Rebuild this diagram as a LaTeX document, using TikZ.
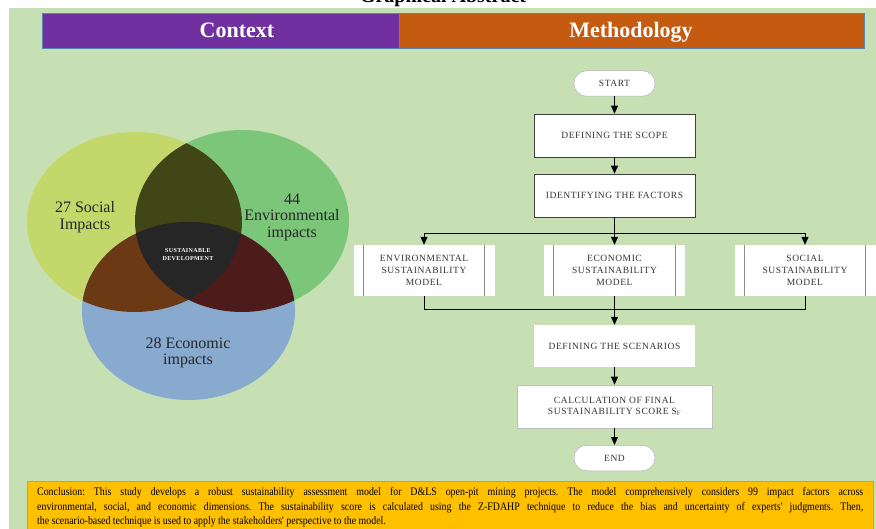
\documentclass[tikz,border=0pt]{standalone}
\usepackage{fontspec}
\setmainfont{Liberation Serif}
\newfontfamily\concfont{Liberation Serif}[FakeStretch=0.86]
\newfontfamily\flowfont{Liberation Serif}[LetterSpace=6]
\usetikzlibrary{arrows.meta}
\definecolor{bgc}{HTML}{C6E0B4}
\definecolor{purp}{HTML}{7030A0}
\definecolor{oran}{HTML}{C55A11}
\definecolor{barb}{HTML}{5B86B0}
\definecolor{socc}{HTML}{C4D76B}
\definecolor{envc}{HTML}{7CC67A}
\definecolor{ecoc}{HTML}{88AACF}
\definecolor{sec}{HTML}{404615}
\definecolor{scc}{HTML}{6B3A15}
\definecolor{ecc}{HTML}{4E1B1B}
\definecolor{ctr}{HTML}{262626}
\definecolor{concc}{HTML}{FFC000}
\definecolor{concb}{HTML}{8FA8B0}
\tikzset{
  x=1pt, y=-1pt,
  hdr/.style={font=\fontsize{22}{24}\selectfont\bfseries, text=white, anchor=base},
  venn/.style={font=\fontsize{16}{16.5}\selectfont, align=center, text=black!85},
  boxbase/.style={fill=white, inner sep=0pt, align=center, text=black!80,
    font=\flowfont\fontsize{9.5}{11.5}\selectfont},
  stepbox/.style={boxbase, draw=black!75, line width=0.7pt},
  plainbox/.style={boxbase},
  lightbox/.style={boxbase, draw=black!25, line width=0.5pt},
  termbox/.style={boxbase, draw=black!30, line width=0.5pt, rounded corners=12.5pt,
    minimum width=81pt, minimum height=25.5pt},
  modelbox/.style={boxbase, minimum width=141pt, minimum height=51pt,
    font=\flowfont\fontsize{9.5}{12}\selectfont},
  arr/.style={-{Triangle[length=8pt,width=7pt]}, line width=0.8pt, black},
  ln/.style={line width=0.8pt, black},
  inner/.style={draw=black!45, line width=0.7pt},
  conc/.style={font=\concfont\fontsize{11.5}{14}\selectfont\frenchspacing, inner sep=0pt, anchor=base west}
}
\begin{document}
\begin{tikzpicture}
\useasboundingbox (0,0) rectangle (876,529);
% background
\fill[white] (0,0) rectangle (876,529);
\fill[bgc] (9,8) rectangle (876,529);
\node[font=\fontsize{20}{20}\selectfont\bfseries, anchor=base] (title) at (443,3) {Graphical Abstract};
% header bars
\fill[purp] (42,13) rectangle (399,48);
\fill[oran] (399,13) rectangle (864,48);
\draw[barb, line width=0.8pt] (42,13) rectangle (864,48);
\draw[barb, line width=0.6pt] (399,13) -- (399,48);
\node[hdr] (ctx) at (237,38) {Context};
\node[hdr] (meth) at (631,38) {Methodology};
% Venn diagram
\def\socE{(134.5,222) ellipse [x radius=107.5pt, y radius=90pt]}
\def\envE{(242,221) ellipse [x radius=107pt, y radius=91pt]}
\def\ecoE{(188.5,311) ellipse [x radius=106.5pt, y radius=89pt]}
\fill[envc] \envE;
\fill[socc] \socE;
\fill[ecoc] \ecoE;
\begin{scope}
  \clip \socE;
  \fill[sec] \envE;
  \fill[scc] \ecoE;
\end{scope}
\begin{scope}
  \clip \envE;
  \fill[ecc] \ecoE;
\end{scope}
\begin{scope}
  \clip \socE;
  \clip \envE;
  \fill[ctr] \ecoE;
\end{scope}
\node[venn] (soc) at (85,217) {27 Social\\Impacts};
\node[venn] (env) at (292,217) {44\\Environmental\\impacts};
\node[venn] (eco) at (188,353) {28 Economic\\impacts};
\node[font=\flowfont\fontsize{6}{8}\selectfont\bfseries, text=white, align=center] (sd) at (188,255) {SUSTAINABLE\\DEVELOPMENT};
% flowchart
\node[termbox] (start) at (614.5,83.5) {START};
\node[stepbox, minimum width=161pt, minimum height=43pt] (scope) at (614.5,135.5) {DEFINING THE SCOPE};
\node[stepbox, minimum width=161pt, minimum height=43pt] (fact) at (614.5,195.5) {IDENTIFYING THE FACTORS};
\node[modelbox] (envm) at (424,270.5) {ENVIRONMENTAL\\SUSTAINABILITY\\MODEL};
\node[modelbox] (ecom) at (614.5,270.5) {ECONOMIC\\SUSTAINABILITY\\MODEL};
\node[modelbox] (socm) at (805,270.5) {SOCIAL\\SUSTAINABILITY\\MODEL};
\node[plainbox, minimum width=161pt, minimum height=42pt] (scen) at (614.5,346) {DEFINING THE SCENARIOS};
\node[lightbox, minimum width=195pt, minimum height=43pt, font=\flowfont\fontsize{9.5}{11}\selectfont] (calc) at (614.5,406.5) {CALCULATION OF FINAL\\SUSTAINABILITY SCORE S\textsubscript{F}};
\node[termbox] (endn) at (614.5,458) {END};
% inner lines of model boxes
\foreach \m in {envm,ecom,socm}{
  \draw[inner] ([xshift=10pt]\m.north west) -- ([xshift=10pt]\m.south west);
  \draw[inner] ([xshift=-10pt]\m.north east) -- ([xshift=-10pt]\m.south east);
}
% connectors
\coordinate (br) at (614.5,233);
\coordinate (mg) at (614.5,309);
\draw[arr] (start) -- (scope);
\draw[arr] (scope) -- (fact);
\draw[ln] (fact.south) -- (br);
\draw[arr] (br) -| (envm.north);
\draw[arr] (br) -| (socm.north);
\draw[arr] (br) -- (ecom.north);
\draw[ln] (envm.south) |- (mg);
\draw[ln] (socm.south) |- (mg);
\draw[ln] (ecom.south) -- (mg);
\draw[arr] (mg) -- (scen.north);
\draw[arr] (scen) -- (calc);
\draw[arr] (calc) -- (endn);
% conclusion
\fill[concc] (27,481) rectangle (873,540);
\draw[concb, line width=1pt] (27,540) -- (27,481) -- (873,481) -- (873,540);
\node[conc] (c1) at (37,495.5) {\makebox[826pt][s]{Conclusion: This study develops a robust sustainability assessment model for D\&LS open-pit mining projects. The model comprehensively considers 99 impact factors across}};
\node[conc] (c2) at (37,510) {\makebox[826pt][s]{environmental, social, and economic dimensions. The sustainability score is calculated using the Z-FDAHP technique to reduce the bias and uncertainty of experts' judgments. Then,}};
\node[conc] (c3) at (37,524.5) {the scenario-based technique is used to apply the stakeholders' perspective to the model.};
\end{tikzpicture}
\end{document}
